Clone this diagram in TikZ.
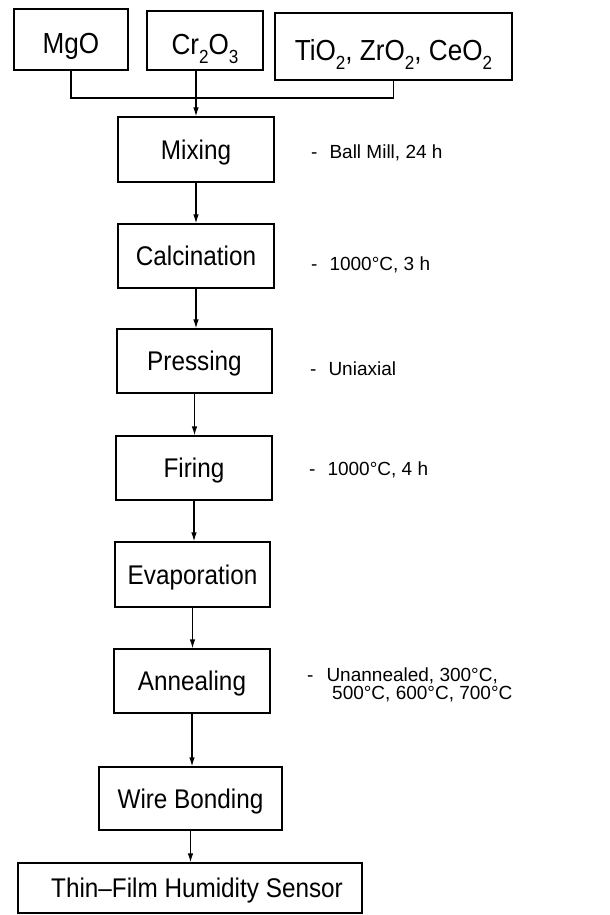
\documentclass[tikz,border=0pt]{standalone}
\usepackage{fontspec}
\setmainfont{Liberation Sans}
\newfontfamily\boxfont{Liberation Sans}[FakeStretch=0.9]
\usetikzlibrary{arrows.meta}
\newcommand{\chemsub}[1]{\raisebox{-0.3em}{\fontsize{19}{19}\selectfont #1}}
\begin{document}
\begin{tikzpicture}[x=1pt,y=-1pt,
  box/.style={draw,line width=1.2pt,inner sep=0pt,text height=19.3pt,text depth=0pt,
    font=\boxfont\fontsize{27}{32}\selectfont},
  topbox/.style={box,text height=28.8pt,font=\boxfont\fontsize{29}{34}\selectfont},
  note/.style={anchor=base west,inner sep=0pt,font=\fontsize{19}{22}\selectfont},
  flow/.style={line width=1.2pt,-{Latex[length=9pt,width=5.5pt]}},
  link/.style={line width=1.2pt}]
\useasboundingbox (0,0) rectangle (610,915);
\node[topbox,minimum width=114pt,minimum height=61pt] (mgo) at (71,39.5) {MgO};
\node[topbox,minimum width=116pt,minimum height=59pt] (cr) at (205,40.5) {Cr\chemsub{2}O\chemsub{3}};
\node[topbox,minimum width=237pt,minimum height=67pt] (tio) at (393.5,46.5) {TiO\chemsub{2}, ZrO\chemsub{2}, CeO\chemsub{2}};
\node[box,minimum width=156pt,minimum height=65pt] (mix) at (196,149.5) {Mixing};
\node[box,minimum width=156pt,minimum height=64pt] (calc) at (196,256) {Calcination};
\node[box,minimum width=155pt,minimum height=64pt] (press) at (194.5,361) {Pressing};
\node[box,minimum width=156pt,minimum height=64pt] (fire) at (194,468) {Firing};
\node[box,minimum width=155pt,minimum height=65pt] (evap) at (192.5,574.5) {Evaporation};
\node[box,minimum width=156pt,minimum height=64pt] (anneal) at (192,681) {Annealing};
\node[box,minimum width=183pt,minimum height=63pt] (wire) at (190.5,798.5) {Wire Bonding};
\node[box,minimum width=344pt,minimum height=50pt] (thin) at (190,888) {\hspace*{14pt}Thin–Film Humidity Sensor};

\node[note] (n1) at (311,158) {-\hspace{12pt}Ball Mill, 24 h};
\node[note] (n2) at (311,270) {-\hspace{12pt}1000°C, 3 h};
\node[note] (n3) at (310,375) {-\hspace{12pt}Uniaxial};
\node[note] (n4) at (309,475) {-\hspace{12pt}1000°C, 4 h};
\node[note] (n5) at (307,681) {-\hspace{13pt}Unannealed, 300°C,};
\node[note] (n6) at (332,699) {500°C, 600°C, 700°C};

\coordinate (bus) at (196,98);
\draw[link] (mgo.south) |- (bus) -| (tio.south);
\draw[flow] (cr.south -| mix.north) -- (mix.north);
\draw[flow] (mix.south) -- (mix.south |- calc.north);
\draw[flow] (calc.south) -- (calc.south |- press.north);
\draw[flow] (press.south) -- (press.south |- fire.north);
\draw[flow] (fire.south) -- (fire.south |- evap.north);
\draw[flow] (evap.south) -- (evap.south |- anneal.north);
\draw[flow] (anneal.south) -- (anneal.south |- wire.north);
\draw[flow] (wire.south) -- (wire.south |- thin.north);
\end{tikzpicture}
\end{document}
